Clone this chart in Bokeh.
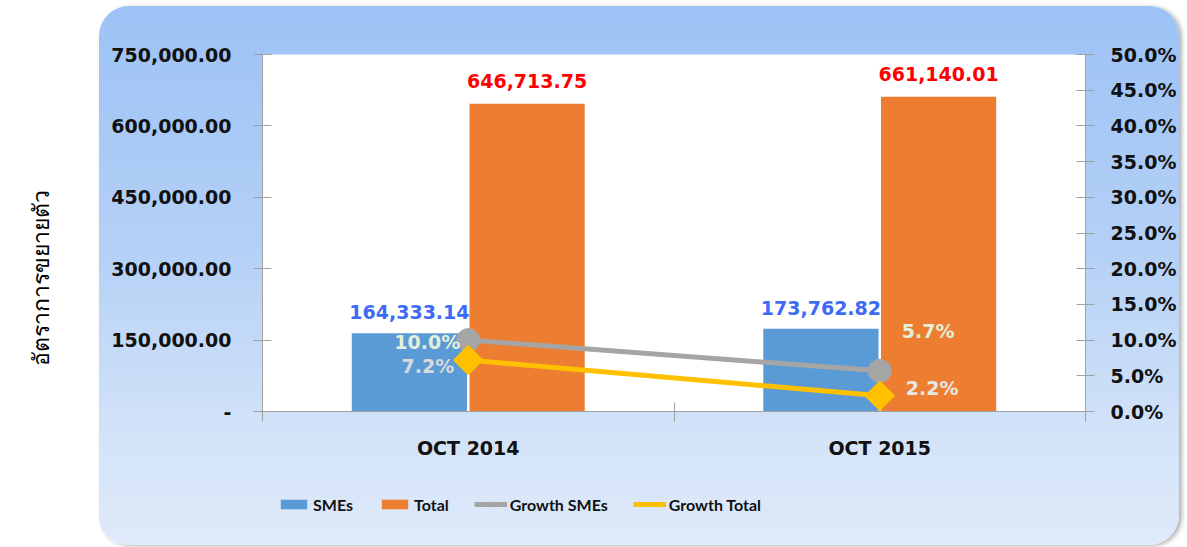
from bokeh.plotting import figure
from bokeh.models import (ColumnDataSource, Range1d, LinearAxis, FixedTicker, Legend,
                          LegendItem, Div, Spacer)
from bokeh.layouts import row, column
from bokeh.core.properties import value
from bokeh.embed import file_html
from bokeh.resources import INLINE
import numpy as np

# ---- data ----
categories = ["OCT 2014", "OCT 2015"]
smes = [164333.14, 173762.82]
total = [646713.75, 661140.01]
growth_smes = [10.0, 5.7]
growth_total = [7.2, 2.2]
smes_labels = ["164,333.14", "173,762.82"]
total_labels = ["646,713.75", "661,140.01"]
growth_smes_labels = ["10.0%", "5.7%"]
growth_total_labels = ["7.2%", "2.2%"]
left_ticks = [0, 150000, 300000, 450000, 600000, 750000]
left_tick_labels = ["-", "150,000.00", "300,000.00", "450,000.00", "600,000.00", "750,000.00"]
right_ticks = [0, 5, 10, 15, 20, 25, 30, 35, 40, 45, 50]
right_tick_labels = ["0.0%", "5.0%", "10.0%", "15.0%", "20.0%", "25.0%", "30.0%",
                     "35.0%", "40.0%", "45.0%", "50.0%"]
series_names = ["SMEs", "Total", "Growth SMEs", "Growth Total"]
y_title = "อัตราการขยายตัว"

FONT = "DejaVu Sans"
AX = "#A0A0A0"
C_SME, C_TOT, C_GS, C_GT = "#5B9BD5", "#ED7D31", "#A5A5A5", "#FFC000"

centers = [i + 0.5 for i in range(len(categories))]
dodge = 0.143
bw = 0.28

W = 1080
TOP_GAP = 6
H_MAIN = 465
H_LEG = 74
p = figure(width=W, height=H_MAIN, x_range=Range1d(0, len(categories)),
           y_range=Range1d(0, 750000), output_backend="svg", toolbar_location=None,
           min_border_left=163, min_border_right=90, min_border_top=48, min_border_bottom=60)
p.extra_y_ranges = {"pct": Range1d(0, 50)}
p.border_fill_color = None
p.background_fill_color = "white"
p.outline_line_color = None
p.xgrid.visible = False
p.ygrid.visible = False

src_s = ColumnDataSource(dict(x=[c - dodge for c in centers], top=smes, lab=smes_labels))
src_t = ColumnDataSource(dict(x=[c + dodge for c in centers], top=total, lab=total_labels))
p.vbar(x="x", top="top", width=bw, source=src_s, fill_color=C_SME, line_color=None)
p.vbar(x="x", top="top", width=bw, source=src_t, fill_color=C_TOT, line_color=None)

p.text(x="x", y="top", text="lab", source=src_s, text_align="center", text_baseline="middle",
       y_offset=-21, text_color="#3D6BF5", text_font=value(FONT), text_font_style="bold",
       text_font_size="19px")
p.text(x="x", y="top", text="lab", source=src_t, text_align="center", text_baseline="middle",
       y_offset=-23, text_color="#FF0000", text_font=value(FONT), text_font_style="bold",
       text_font_size="19px")

src_gs = ColumnDataSource(dict(x=centers, y=growth_smes, lab=growth_smes_labels))
src_gt = ColumnDataSource(dict(x=centers, y=growth_total, lab=growth_total_labels))
p.line(x="x", y="y", source=src_gs, y_range_name="pct", line_color=C_GS, line_width=5)
p.scatter(x="x", y="y", source=src_gs, y_range_name="pct", marker="circle", size=23,
          fill_color=C_GS, line_color=C_GS)
p.line(x="x", y="y", source=src_gt, y_range_name="pct", line_color=C_GT, line_width=5)
p.scatter(x="x", y="y", source=src_gt, y_range_name="pct", marker="square", angle=np.pi / 4,
          size=21, fill_color=C_GT, line_color=C_GT)

# growth labels
gs_x_off = [-8, 22]
gs_y_off = [2, -40]
gs_align = ["right", "left"]
gs_col = ["#E2EFDA", "#E2EFDA"]
gt_x_off = [-14, 26]
gt_y_off = [6, -8]
gt_align = ["right", "left"]
gt_col = ["#D9D9D9", "#E7E6E6"]
for i in range(len(categories)):
    p.text(x=[centers[i]], y=[growth_smes[i]], text=[growth_smes_labels[i]], y_range_name="pct",
           x_offset=gs_x_off[i], y_offset=gs_y_off[i], text_align=gs_align[i], text_baseline="middle",
           text_color=gs_col[i], text_font=value(FONT), text_font_style="bold", text_font_size="19px")
    p.text(x=[centers[i]], y=[growth_total[i]], text=[growth_total_labels[i]], y_range_name="pct",
           x_offset=gt_x_off[i], y_offset=gt_y_off[i], text_align=gt_align[i], text_baseline="middle",
           text_color=gt_col[i], text_font=value(FONT), text_font_style="bold", text_font_size="19px")

# axes
def style_axis(ax):
    ax.axis_line_color = AX
    ax.major_tick_line_color = AX
    ax.minor_tick_line_color = AX
    ax.major_label_text_font = FONT
    ax.major_label_text_font_style = "bold"
    ax.major_label_text_font_size = "19px"
    ax.major_label_text_color = "#111111"

xa = p.xaxis[0]
xa.ticker = FixedTicker(ticks=centers, minor_ticks=list(range(len(categories) + 1)))
xa.major_label_overrides = {c: lab for c, lab in zip(centers, categories)}
style_axis(xa)
xa.major_tick_in = 0
xa.major_tick_out = 0
xa.minor_tick_in = 9
xa.minor_tick_out = 10
xa.major_label_standoff = 15

ya = p.yaxis[0]
ya.ticker = FixedTicker(ticks=left_ticks)
ya.major_label_overrides = {t: lab for t, lab in zip(left_ticks, left_tick_labels)}
style_axis(ya)
ya.major_tick_in = 9
ya.major_tick_out = 9
ya.minor_tick_line_color = None
ya.major_label_standoff = 22

ra = LinearAxis(y_range_name="pct", ticker=FixedTicker(ticks=right_ticks))
ra.major_label_overrides = {t: lab for t, lab in zip(right_ticks, right_tick_labels)}
style_axis(ra)
ra.major_tick_in = 9
ra.major_tick_out = 9
ra.minor_tick_line_color = None
ra.major_label_standoff = 16
p.add_layout(ra, "right")

# ---- legend strip (separate small figure holding only the legend) ----
pl = figure(width=W, height=H_LEG, x_range=Range1d(0, 1), y_range=Range1d(0, 1),
            output_backend="svg", toolbar_location=None, x_axis_location=None,
            y_axis_location=None, min_border=0, min_border_left=158)
pl.border_fill_color = None
pl.background_fill_color = None
pl.outline_line_color = None
pl.xgrid.visible = False
pl.ygrid.visible = False
# proxies placed outside the visible range: only their legend swatches are seen
e = ColumnDataSource(dict(x=[-5.0], y=[-5.0]))
lr_s = pl.vbar(x="x", top="y", width=0.1, source=e, fill_color=C_SME, line_color=None)
lr_t = pl.vbar(x="x", top="y", width=0.1, source=e, fill_color=C_TOT, line_color=None)
lr_gs1 = pl.line(x="x", y="y", source=e, line_color=C_GS, line_width=5)
lr_gs2 = pl.scatter(x="x", y="y", source=e, marker="circle", size=8, fill_color=C_GS, line_color=C_GS)
lr_gt1 = pl.line(x="x", y="y", source=e, line_color=C_GT, line_width=5)
lr_gt2 = pl.scatter(x="x", y="y", source=e, marker="diamond", size=10, fill_color=C_GT, line_color=C_GT)
legend = Legend(items=[LegendItem(label=series_names[0], renderers=[lr_s]),
                       LegendItem(label=series_names[1], renderers=[lr_t]),
                       LegendItem(label=series_names[2], renderers=[lr_gs1, lr_gs2]),
                       LegendItem(label=series_names[3], renderers=[lr_gt1, lr_gt2])],
                orientation="horizontal", location="top_left")
legend.margin = 15
legend.background_fill_alpha = 0
legend.border_line_alpha = 0
legend.padding = 0
legend.glyph_width = 33
legend.glyph_height = 12
legend.label_standoff = 3
legend.spacing = 25
legend.label_height = 36
legend.label_text_font = "Lato"
legend.label_text_font_style = "bold"
legend.label_text_font_size = "16px"
legend.label_text_color = "#111111"
pl.add_layout(legend, "center")

panel = column(p, pl, spacing=0)
panel.styles = {"background": "linear-gradient(to bottom, #9cc2f5 0%, #b4d0f6 45%, #d3e3f8 80%, #dfeafa 100%)",
                "border-radius": "30px 30px 30px 28px",
                "box-shadow": "3px 1px 4px rgba(0,0,0,0.30)"}

H = TOP_GAP + H_MAIN + H_LEG
right_col = column(Spacer(width=W, height=TOP_GAP), panel, spacing=0)

div = Div(text=f'<div style="width:89px;height:{H}px;display:flex;align-items:center;'
               f'justify-content:flex-start;padding-left:20px;box-sizing:border-box;">'
               f'<span style="writing-mode:vertical-rl;transform:rotate(180deg);font-size:23px;'
               f'color:#000;">{y_title}</span></div>',
          width=89, height=H)

layout = row(div, right_col)
open("out.html", "w").write(file_html(layout, INLINE))
